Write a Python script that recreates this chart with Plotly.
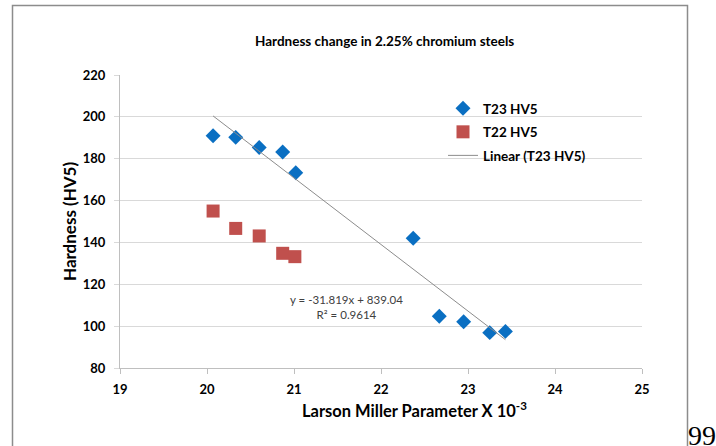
import plotly.graph_objects as go

# Larson-Miller parameter (x 10^-3) and Vickers hardness readings
t23_lmp = [20.07, 20.33, 20.60, 20.87, 21.02, 22.37, 22.67, 22.95, 23.25, 23.43]
t23_hv5 = [191.0, 190.2, 185.4, 183.2, 173.3, 142.0, 104.7, 102.1, 96.9, 97.5]

t22_lmp = [20.07, 20.33, 20.60, 20.87, 21.01]
t22_hv5 = [155.0, 146.7, 143.1, 134.8, 133.2]

# Linear trend of the T23 series, as reported on the chart
trend_slope = -31.819
trend_intercept = 839.04
trend_r2 = 0.9614

x_ticks = [19, 20, 21, 22, 23, 24, 25]
y_ticks = [80, 100, 120, 140, 160, 180, 200, 220]

FONT = "Lato"
W, H = 716, 446
L, R, T, B = 120, 74, 75, 78
PW, PH = W - L - R, H - T - B


def px_x(p):
    return (p - L) / PW


def px_y(p):
    return (H - B - p) / PH


trend_x = [min(t23_lmp), max(t23_lmp)]
trend_y = [trend_slope * v + trend_intercept for v in trend_x]

fig = go.Figure()
fig.add_trace(go.Scatter(
    x=t23_lmp, y=t23_hv5, mode="markers", name="T23 HV5", legendgroup="a",
    marker=dict(symbol="diamond", size=11.5, color="#0A6FC2", line=dict(width=0)),
))
fig.add_trace(go.Scatter(
    x=t22_lmp, y=t22_hv5, mode="markers", name="T22 HV5", legendgroup="b",
    marker=dict(symbol="square", size=13, color="#C0504D", line=dict(width=0)),
))
fig.add_trace(go.Scatter(
    x=trend_x, y=trend_y, mode="lines", name="Linear (T23 HV5)", legendgroup="c",
    line=dict(color="#8C8C8C", width=1),
))

fig.update_layout(
    width=W, height=H,
    margin=dict(l=L, r=R, t=T, b=B, pad=0),
    paper_bgcolor="white", plot_bgcolor="white",
    font=dict(family=FONT, color="#000000"),
    showlegend=True,
    legend=dict(
        x=px_x(443), y=px_y(93), xanchor="left", yanchor="top",
        bgcolor="rgba(0,0,0,0)", borderwidth=0,
        font=dict(family=FONT, size=13.5, color="#000000", weight="bold"),
        tracegroupgap=3, itemwidth=30,
    ),
    xaxis=dict(
        range=[19, 25], tickvals=x_ticks, ticktext=[str(v) for v in x_ticks],
        showgrid=False, zeroline=False,
        showline=True, linecolor="#BFBFBF", linewidth=1,
        ticks="outside", ticklen=5, tickcolor="#BFBFBF",
        ticklabelstandoff=4,
        tickfont=dict(family=FONT, size=13, color="#000000", weight="bold"),
        fixedrange=True,
    ),
    yaxis=dict(
        range=[80, 220], tickvals=y_ticks, ticktext=[str(v) for v in y_ticks],
        showgrid=True, gridcolor="#D9D9D9", gridwidth=1, zeroline=False,
        showline=True, linecolor="#BFBFBF", linewidth=1,
        ticks="outside", ticklen=5, tickcolor="#D9D9D9",
        ticklabelstandoff=6,
        tickfont=dict(family=FONT, size=13, color="#000000", weight="bold"),
        fixedrange=True,
    ),
)

annotations = [
    dict(text="Hardness change in 2.25% chromium steels",
         x=px_x(384), y=px_y(41), xanchor="center", yanchor="middle",
         font=dict(family=FONT, size=13.5, color="#000000", weight="bold")),
    dict(text="Larson Miller Parameter X 10<sup>-3</sup>",
         x=px_x(300), y=px_y(410), xanchor="left", yanchor="middle",
         font=dict(family=FONT, size=16.5, color="#000000", weight="bold")),
    dict(text="Hardness (HV5)", textangle=-90,
         x=px_x(69), y=px_y(222), xanchor="center", yanchor="middle",
         font=dict(family=FONT, size=17, color="#000000", weight="bold")),
    dict(text=f"y = {trend_slope:.3f}x + {trend_intercept:.2f}<br>R² = {trend_r2:.4f}",
         x=px_x(346), y=px_y(307), xanchor="center", yanchor="middle", align="center",
         font=dict(family=FONT, size=11.5, color="#404040")),
    dict(text="99", x=px_x(686), y=px_y(435), xanchor="left", yanchor="middle",
         font=dict(family="Liberation Serif", size=28, color="#000000")),
]
for a in annotations:
    a.update(xref="paper", yref="paper", showarrow=False)
fig.update_layout(annotations=annotations)

# Chart-area frame (left, top and right edges)
frame = dict(type="path", xref="paper", yref="paper",
             path=f"M {px_x(12.5)},{px_y(447)} L {px_x(12.5)},{px_y(5.5)} "
                  f"L {px_x(687.5)},{px_y(5.5)} L {px_x(687.5)},{px_y(447)}",
             line=dict(color="#8C8C8C", width=1.5), layer="above")
fig.update_layout(shapes=[frame])

fig.write_html("out.html")
